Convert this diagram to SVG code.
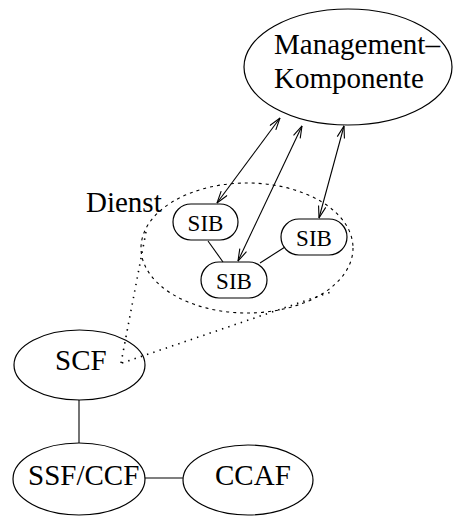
<svg xmlns="http://www.w3.org/2000/svg" width="453" height="516" viewBox="0 0 453 516">
  <style>
    .shape { fill: none; stroke: #000; stroke-width: 1.2; }
    .line { fill: none; stroke: #000; stroke-width: 1.1; }
    .dashed { fill: none; stroke: #000; stroke-width: 1.1; stroke-dasharray: 3 4; }
    .dotted { fill: none; stroke: #000; stroke-width: 1.6; stroke-dasharray: 1.4 5.2; }
    .lbl { font-family: "Liberation Serif", "Times New Roman", serif; font-size: 29px; fill: #000; }
    .sib { font-family: "Liberation Serif", "Times New Roman", serif; font-size: 23px; fill: #000; text-anchor: middle; }
  </style>
  <defs>
    <marker id="arrow" viewBox="0 0 13 9" refX="12.5" refY="4.5" markerWidth="13" markerHeight="9" markerUnits="userSpaceOnUse" orient="auto-start-reverse">
      <path d="M0.5,0.8 L12.5,4.5 L0.5,8.2" fill="none" stroke="#000" stroke-width="1.1"/>
    </marker>
  </defs>

  <!-- Management component -->
  <g id="management">
    <ellipse class="shape" cx="348" cy="67" rx="104" ry="58"/>
    <text class="lbl" x="274" y="54">Management–</text>
    <text class="lbl" x="274" y="88">Komponente</text>
  </g>

  <!-- Service boundary -->
  <g id="dienst">
    <ellipse class="dashed" cx="247" cy="248" rx="106" ry="65"/>
    <text class="lbl" x="86" y="212">Dienst</text>
  </g>

  <g id="sib1">
    <rect class="shape" x="173" y="204" width="65" height="36" rx="18" ry="18"/>
    <text class="sib" x="205.5" y="231">SIB</text>
  </g>
  <g id="sib2">
    <rect class="shape" x="281" y="219" width="66" height="36" rx="18" ry="18"/>
    <text class="sib" x="314" y="246">SIB</text>
  </g>
  <g id="sib3">
    <rect class="shape" x="201" y="262" width="66" height="36" rx="18" ry="18"/>
    <text class="sib" x="234" y="289">SIB</text>
  </g>

  <g id="scf">
    <ellipse class="shape" cx="79.5" cy="365" rx="65.5" ry="35"/>
    <text class="lbl" x="55" y="370">SCF</text>
  </g>
  <g id="ssf-ccf">
    <ellipse class="shape" cx="79" cy="479" rx="66" ry="36"/>
    <text class="lbl" x="28" y="485">SSF/CCF</text>
  </g>
  <g id="ccaf">
    <ellipse class="shape" cx="248" cy="480" rx="65" ry="35"/>
    <text class="lbl" x="215" y="485">CCAF</text>
  </g>

  <g id="connectors">
    <!-- management links -->
    <line class="line" x1="280" y1="118" x2="217" y2="203" marker-start="url(#arrow)" marker-end="url(#arrow)"/>
    <line class="line" x1="302" y1="126" x2="238" y2="261" marker-start="url(#arrow)" marker-end="url(#arrow)"/>
    <line class="line" x1="344" y1="126" x2="319" y2="218" marker-start="url(#arrow)" marker-end="url(#arrow)"/>
    <!-- SIB chain -->
    <line class="line" x1="208" y1="241" x2="223" y2="262"/>
    <line class="line" x1="285" y1="247" x2="260" y2="263"/>
    <!-- SCF refinement -->
    <line class="dotted" x1="121" y1="363" x2="146" y2="232"/>
    <line class="dotted" x1="122" y1="363" x2="331" y2="292"/>
    <!-- lower links -->
    <line class="line" x1="79" y1="400" x2="79" y2="443"/>
    <line class="line" x1="145" y1="478" x2="183" y2="478"/>
  </g>
</svg>
